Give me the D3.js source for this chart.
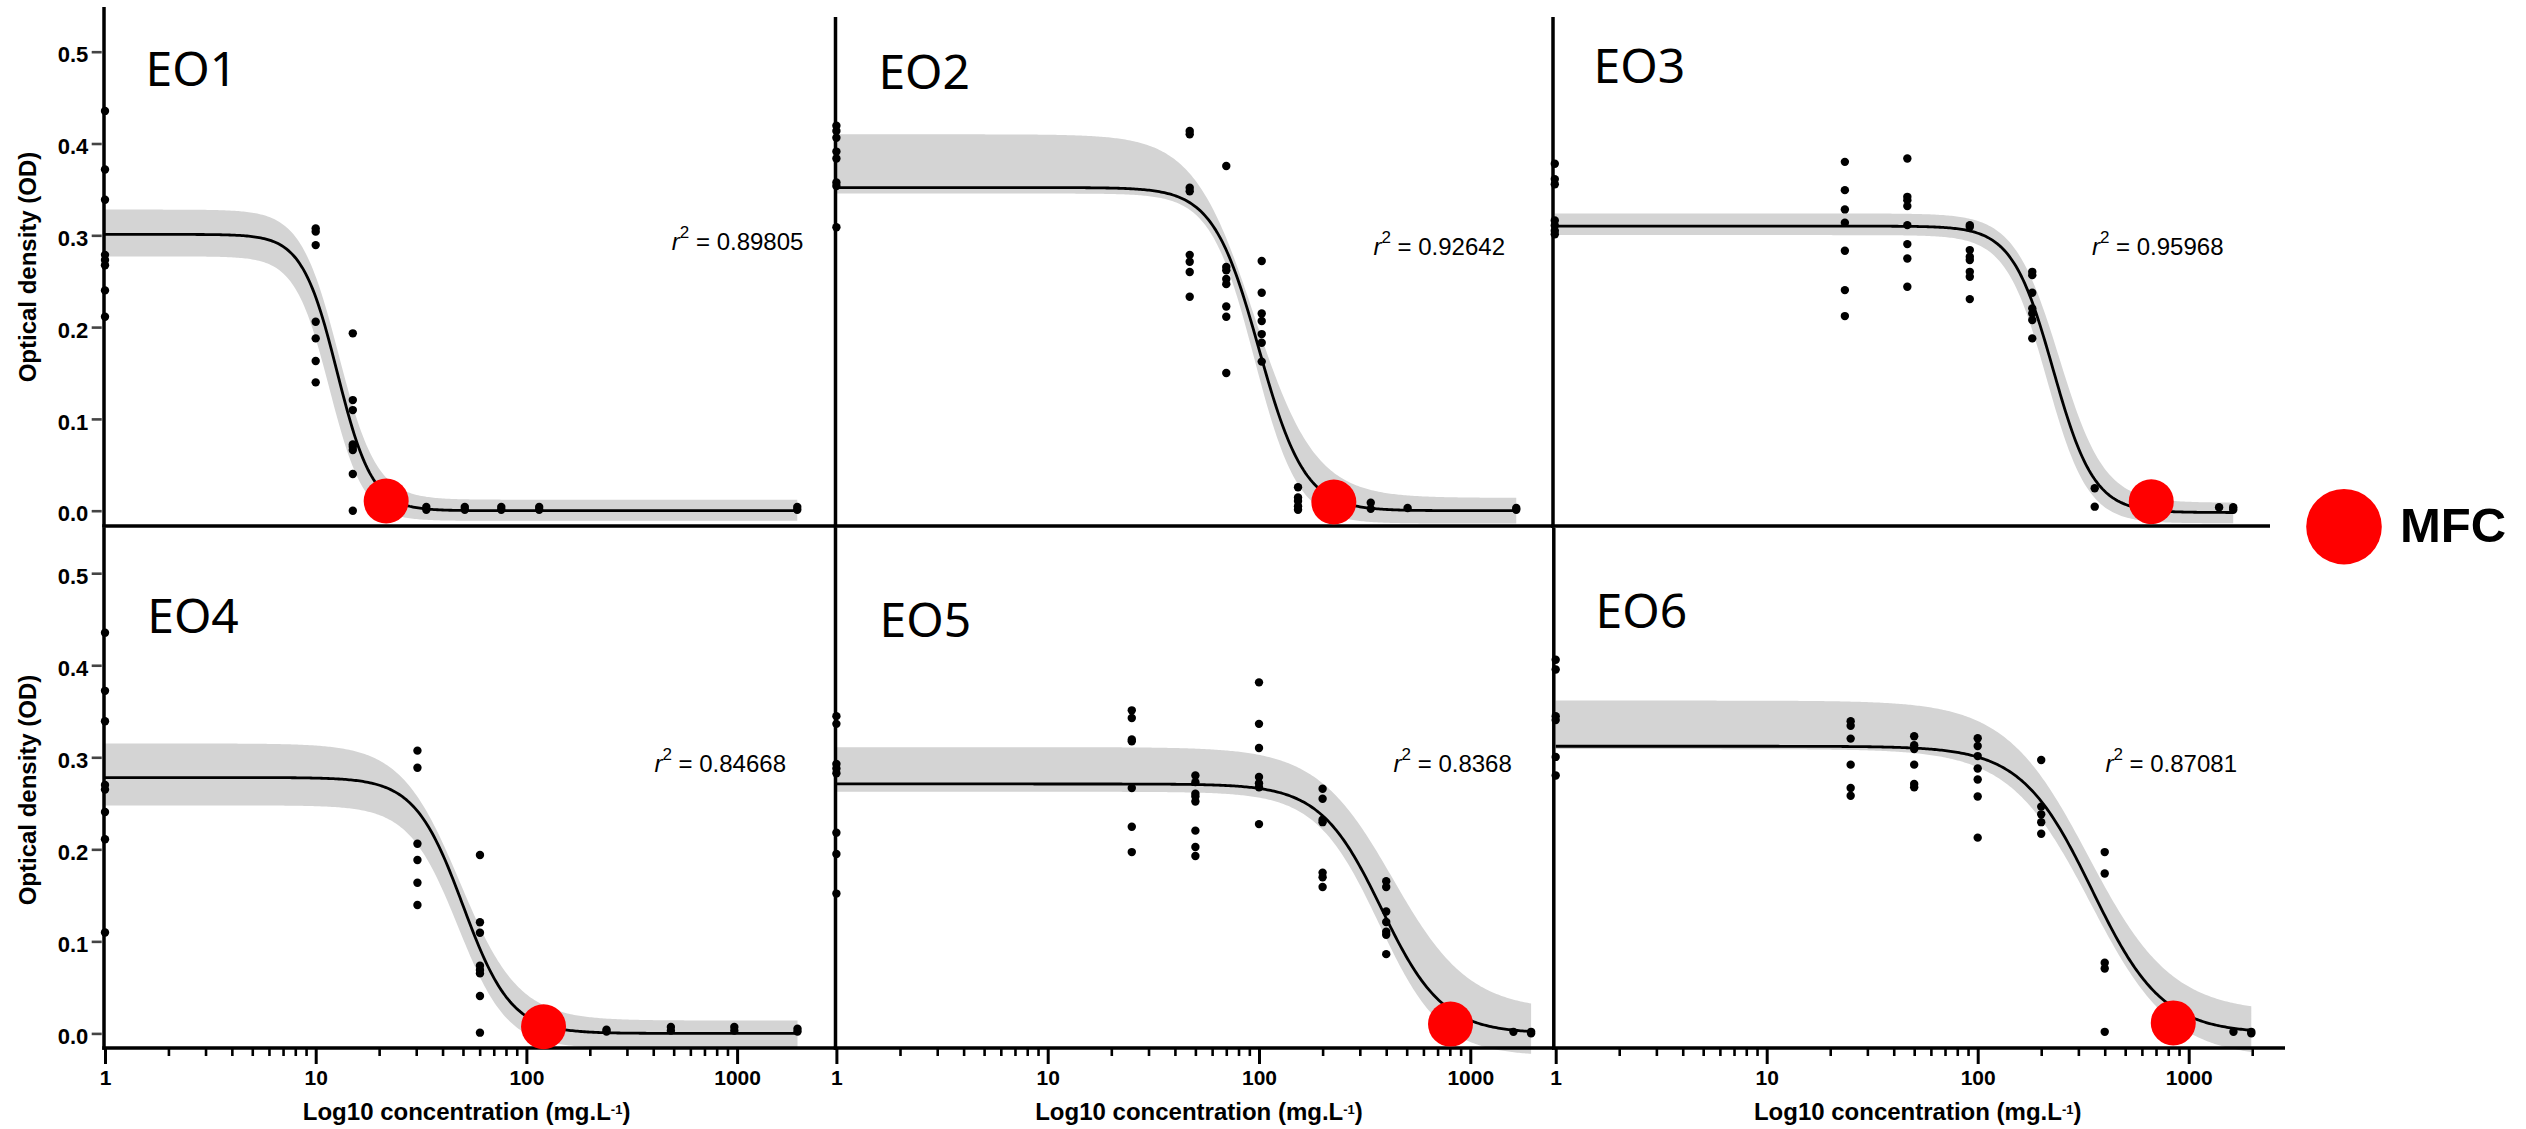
<!DOCTYPE html>
<html>
<head>
<meta charset="utf-8">
<script src="https://cdn.jsdelivr.net/npm/d3@7"></script>
<style>
  html, body { margin: 0; padding: 0; background: #ffffff; }
  svg { display: block; }
</style>
</head>
<body>
<svg id="chart" width="2526" height="1129"></svg>
<script>
// ---------------- data ----------------
const panelNames = ["EO1", "EO2", "EO3", "EO4", "EO5", "EO6"];
const rSquared   = ["0.89805", "0.92642", "0.95968", "0.84668", "0.8368", "0.87081"];

// tested concentrations (mg/L) per essential oil; 1 = untreated control
const doses = [
  [1, 10, 15, 33.5, 51, 76, 115, 1930],
  [1, 47, 70, 103, 153, 338, 505, 1650],
  [1, 25, 50, 100, 200, 400, 1590, 1860],
  [1, 30.4, 60.2, 240, 485, 970, 1935],
  [1, 25, 50, 100, 200, 400, 1600, 1940],
  [1, 25, 50, 100, 200, 400, 1630, 1980]
];

// optical density readings, one list per concentration
const odValues = [
  [[0.4355, 0.3717, 0.3387, 0.2787, 0.273, 0.2674, 0.24, 0.2112],
   [0.3075, 0.304, 0.2893, 0.2058, 0.1877, 0.163, 0.1398],
   [0.1932, 0.1205, 0.1096, 0.0722, 0.0697, 0.0661, 0.04, 0.0],
   [0.004, 0.001], [0.004, 0.001], [0.004, 0.001], [0.004, 0.001], [0.004, 0.001]],
  [[0.4193, 0.4137, 0.4062, 0.3912, 0.3837, 0.3575, 0.3537, 0.3087],
   [0.4137, 0.41, 0.3518, 0.348, 0.2787, 0.2712, 0.26, 0.233],
   [0.3755, 0.2656, 0.2618, 0.2524, 0.2468, 0.2224, 0.2112, 0.15],
   [0.272, 0.2374, 0.2149, 0.2067, 0.1924, 0.183, 0.1624],
   [0.0255, 0.0143, 0.0105, 0.0049, 0.001],
   [0.0086, 0.002], [0.003], [0.003, 0.001]],
  [[0.378, 0.3612, 0.3556, 0.3162, 0.3106, 0.305, 0.3012],
   [0.38, 0.3492, 0.3282, 0.3136, 0.2831, 0.2403, 0.212],
   [0.3837, 0.3419, 0.3383, 0.3318, 0.3111, 0.2904, 0.2748, 0.2439],
   [0.3111, 0.3092, 0.2839, 0.2766, 0.273, 0.2602, 0.2548, 0.2305],
   [0.2602, 0.2566, 0.2374, 0.2204, 0.2149, 0.2076, 0.1877],
   [0.0244, 0.0044], [0.0037], [0.0037, 0.001]],
  [[0.4354, 0.3722, 0.3392, 0.27, 0.265, 0.2405, 0.211, 0.1097],
   [0.3072, 0.2887, 0.2061, 0.1884, 0.1637, 0.1395],
   [0.1938, 0.1207, 0.1094, 0.0735, 0.0689, 0.0652, 0.0406, 0.0008],
   [0.004, 0.002], [0.007, 0.003], [0.007, 0.003], [0.005, 0.002]],
  [[0.3447, 0.3363, 0.2928, 0.2878, 0.2827, 0.2181, 0.1949, 0.1519],
   [0.351, 0.3426, 0.3194, 0.3173, 0.2667, 0.2245, 0.197],
   [0.2802, 0.273, 0.2603, 0.2574, 0.2519, 0.2203, 0.2025, 0.1928],
   [0.3814, 0.3363, 0.3101, 0.2785, 0.2717, 0.2675, 0.2274],
   [0.2658, 0.2549, 0.2321, 0.2295, 0.1747, 0.1696, 0.1591],
   [0.1654, 0.1591, 0.1325, 0.1211, 0.1105, 0.1072, 0.0861],
   [0.0017], [0.0017, 0.0]],
  [[0.4059, 0.3954, 0.3447, 0.3405, 0.3004, 0.2802],
   [0.3392, 0.3342, 0.3203, 0.292, 0.2667, 0.2582],
   [0.3228, 0.3131, 0.3089, 0.292, 0.2709, 0.2675],
   [0.3207, 0.3122, 0.3013, 0.2878, 0.2759, 0.2574, 0.2127],
   [0.297, 0.2464, 0.238, 0.2295, 0.2169],
   [0.197, 0.1738, 0.0768, 0.0705, 0.0017],
   [0.0017], [0.0017, 0.0]]
];

// four-parameter log-logistic fits: [top, bottom, EC50, hill slope]
const fitCurve = [
  [0.301, 0.0, 12.66, 5.2],
  [0.352, 0.0, 100, 4.0],
  [0.310, -0.002, 252, 4.4],
  [0.278, 0.0, 50, 3.8],
  [0.271, 0.0, 380, 3.0],
  [0.312, 0.0, 348, 2.6]
];
// upper and lower limits of the 95% confidence band, same form
const fitUpper = [
  [0.328, 0.012, 12.85, 4.8],
  [0.410, 0.014, 95, 3.0],
  [0.3238, 0.0087, 270, 4.0],
  [0.315, 0.014, 48.3, 3.1],
  [0.311, 0.025, 430, 2.4],
  [0.3616, 0.0228, 335, 2.2]
];
const fitLower = [
  [0.277, -0.011, 11.62, 5.3],
  [0.3455, -0.014, 95, 4.2],
  [0.3002, -0.0137, 235, 4.4],
  [0.2477, -0.016, 47.4, 3.7],
  [0.2625, -0.0245, 370, 2.9],
  [0.3089, -0.0266, 343, 2.25]
];

// minimum fungicidal concentration marker
const mfcDose = [21.6, 226, 749, 120.6, 806, 845];
const mfcOD   = [0.0105, 0.0094, 0.0098, 0.0073, 0.0101, 0.0114];

const yTicks = [0, 0.1, 0.2, 0.3, 0.4, 0.5];
const xTicks = [1, 10, 100, 1000];

// ---------------- layout ----------------
const rows = [
  { yRange: [510.7, 51.7], axisY: 525.9 },
  { yRange: [1033.4, 573.2], axisY: 1048 }
];
const layout = [
  { row: 0, x1: 105,    decade: 210.7, right: 836,  axisX: 104,    top: 7,   title: [145.5, 86],    r2: [803.4, 249.6] },
  { row: 0, x1: 836.4,  decade: 211.3, right: 1553, axisX: 835.5,  top: 17,  title: [878.4, 88.8],  r2: [1505, 254.8] },
  { row: 0, x1: 1554.8, decade: 207.5, right: 2270, axisX: 1553,   top: 17,  title: [1593.6, 82.6], r2: [2223.5, 254.8] },
  { row: 1, x1: 105,    decade: 210.7, right: 836,  axisX: 104,    top: 528, title: [147.2, 632.6], r2: [786, 771.6] },
  { row: 1, x1: 836.4,  decade: 211.3, right: 1553, axisX: 835.5,  top: 528, title: [879.6, 636.5], r2: [1511.8, 771.6] },
  { row: 1, x1: 1555.7, decade: 211,   right: 2285, axisX: 1553.8, top: 528, title: [1595.6, 628],  r2: [2237, 771.6] }
];
const xTitleCenters = [466.6, 1199, 1917.7];
const yTitleCenters = [267, 790];

const SANS = "'Liberation Sans', Arial, Helvetica, sans-serif";
const LABEL_FONT = "'Noto Sans', 'Open Sans', sans-serif";
const BAND = "#d4d4d4";
const RED = "#ff0000";

const svg = d3.select("#chart");

function fourPL(p, d) {
  return p[1] + (p[0] - p[1]) / (1 + Math.pow(d / p[2], p[3]));
}

layout.forEach((L, i) => {
  const row = rows[L.row];
  const xmax = Math.pow(10, (L.right - L.x1) / L.decade);
  const x = d3.scaleLog().domain([1, xmax]).range([L.x1, L.right]);
  const y = d3.scaleLinear().domain([0, 0.5]).range(row.yRange);
  const g = svg.append("g").attr("class", "panel");

  // sample the fitted model across the tested range
  const maxDose = d3.max(doses[i]);
  const n = 400;
  const grid = d3.range(n + 1).map(k => Math.pow(10, Math.log10(maxDose) * k / n));

  g.append("path")
    .datum(grid)
    .attr("fill", BAND)
    .attr("d", d3.area()
      .x(d => x(d))
      .y0(d => y(fourPL(fitLower[i], d)))
      .y1(d => y(fourPL(fitUpper[i], d))));

  g.append("path")
    .datum(grid)
    .attr("fill", "none")
    .attr("stroke", "#000")
    .attr("stroke-width", 2.8)
    .attr("d", d3.line()
      .x(d => x(d))
      .y(d => y(fourPL(fitCurve[i], d))));

  // observations
  const pts = [];
  doses[i].forEach((dose, j) => odValues[i][j].forEach(v => pts.push([dose, v])));
  g.append("g").selectAll("circle")
    .data(pts)
    .join("circle")
    .attr("cx", d => x(d[0]))
    .attr("cy", d => y(d[1]))
    .attr("r", 4.2)
    .attr("fill", "#000");

  // axis lines
  g.append("line")
    .attr("x1", L.axisX).attr("x2", L.axisX)
    .attr("y1", L.top).attr("y2", row.axisY + 1.75)
    .attr("stroke", "#000").attr("stroke-width", 3.5);
  g.append("line")
    .attr("x1", L.axisX - 1.75).attr("x2", L.right)
    .attr("y1", row.axisY).attr("y2", row.axisY)
    .attr("stroke", "#000").attr("stroke-width", 3.5);

  // y ticks on the left-hand panels
  if (i === 0 || i === 3) {
    const ya = g.append("g")
      .attr("transform", `translate(${L.axisX - 2.3},0)`)
      .call(d3.axisLeft(y).tickValues(yTicks).tickFormat(d3.format(".1f"))
        .tickSize(10).tickPadding(3.4).tickSizeOuter(0));
    ya.select(".domain").remove();
    ya.selectAll(".tick line").attr("stroke", "#444").attr("stroke-width", 2.6);
    ya.selectAll(".tick text")
      .attr("dy", "0.46em")
      .attr("font-family", SANS).attr("font-weight", "bold")
      .attr("font-size", 22).attr("fill", "#000");
  }

  // log x ticks on the bottom row
  if (L.row === 1) {
    const minor = [];
    for (let e = 0; e < 4; e++) for (let k = 2; k <= 9; k++) {
      const v = k * Math.pow(10, e);
      if (v <= maxDose * 1.02) minor.push(v);
    }
    const mg = g.append("g")
      .attr("transform", `translate(0,${row.axisY})`)
      .call(d3.axisBottom(x).tickValues(minor).tickFormat("").tickSize(8).tickSizeOuter(0));
    mg.select(".domain").remove();
    mg.selectAll(".tick line").attr("stroke", "#000").attr("stroke-width", 2.6);

    const xa = g.append("g")
      .attr("transform", `translate(0,${row.axisY})`)
      .call(d3.axisBottom(x).tickValues(xTicks).tickFormat(d3.format("d"))
        .tickSize(16).tickPadding(6).tickSizeOuter(0));
    xa.select(".domain").remove();
    xa.selectAll(".tick line").attr("stroke", "#000").attr("stroke-width", 3);
    xa.selectAll(".tick text")
      .attr("font-family", SANS).attr("font-weight", "bold")
      .attr("font-size", 21).attr("fill", "#000");

    const t = g.append("text")
      .attr("x", xTitleCenters[i - 3]).attr("y", 1120)
      .attr("text-anchor", "middle")
      .attr("font-family", SANS).attr("font-weight", "bold")
      .attr("font-size", 24).attr("fill", "#000");
    t.append("tspan").text("Log10 concentration (mg.L");
    t.append("tspan").attr("dy", -6).attr("font-size", 13).text("-1");
    t.append("tspan").attr("dy", 6).text(")");
  }

  // panel label
  g.append("text")
    .attr("x", L.title[0]).attr("y", L.title[1])
    .attr("font-family", LABEL_FONT).attr("font-size", 48)
    .attr("fill", "#000")
    .text(panelNames[i]);

  // goodness of fit
  const r2 = g.append("text")
    .attr("x", L.r2[0]).attr("y", L.r2[1])
    .attr("text-anchor", "end")
    .attr("font-family", SANS).attr("font-size", 24).attr("fill", "#000");
  r2.append("tspan").attr("font-style", "italic").text("r");
  r2.append("tspan").attr("dy", -12).attr("font-size", 17).text("2");
  r2.append("tspan").attr("dy", 12).text(" = " + rSquared[i]);

  // MFC marker
  g.append("circle")
    .attr("cx", x(mfcDose[i]))
    .attr("cy", y(mfcOD[i]))
    .attr("r", 22.5)
    .attr("fill", RED);
});

// y-axis titles
yTitleCenters.forEach(cy => {
  svg.append("text")
    .attr("transform", `translate(36,${cy}) rotate(-90)`)
    .attr("text-anchor", "middle")
    .attr("font-family", SANS).attr("font-weight", "bold")
    .attr("font-size", 24).attr("fill", "#000")
    .text("Optical density (OD)");
});

// legend
const legend = svg.append("g");
legend.append("circle").attr("cx", 2344).attr("cy", 526.7).attr("r", 37.8).attr("fill", RED);
legend.append("text")
  .attr("x", 2400).attr("y", 541.7)
  .attr("font-family", SANS).attr("font-weight", "bold")
  .attr("font-size", 49).attr("fill", "#000")
  .text("MFC");
</script>
</body>
</html>
